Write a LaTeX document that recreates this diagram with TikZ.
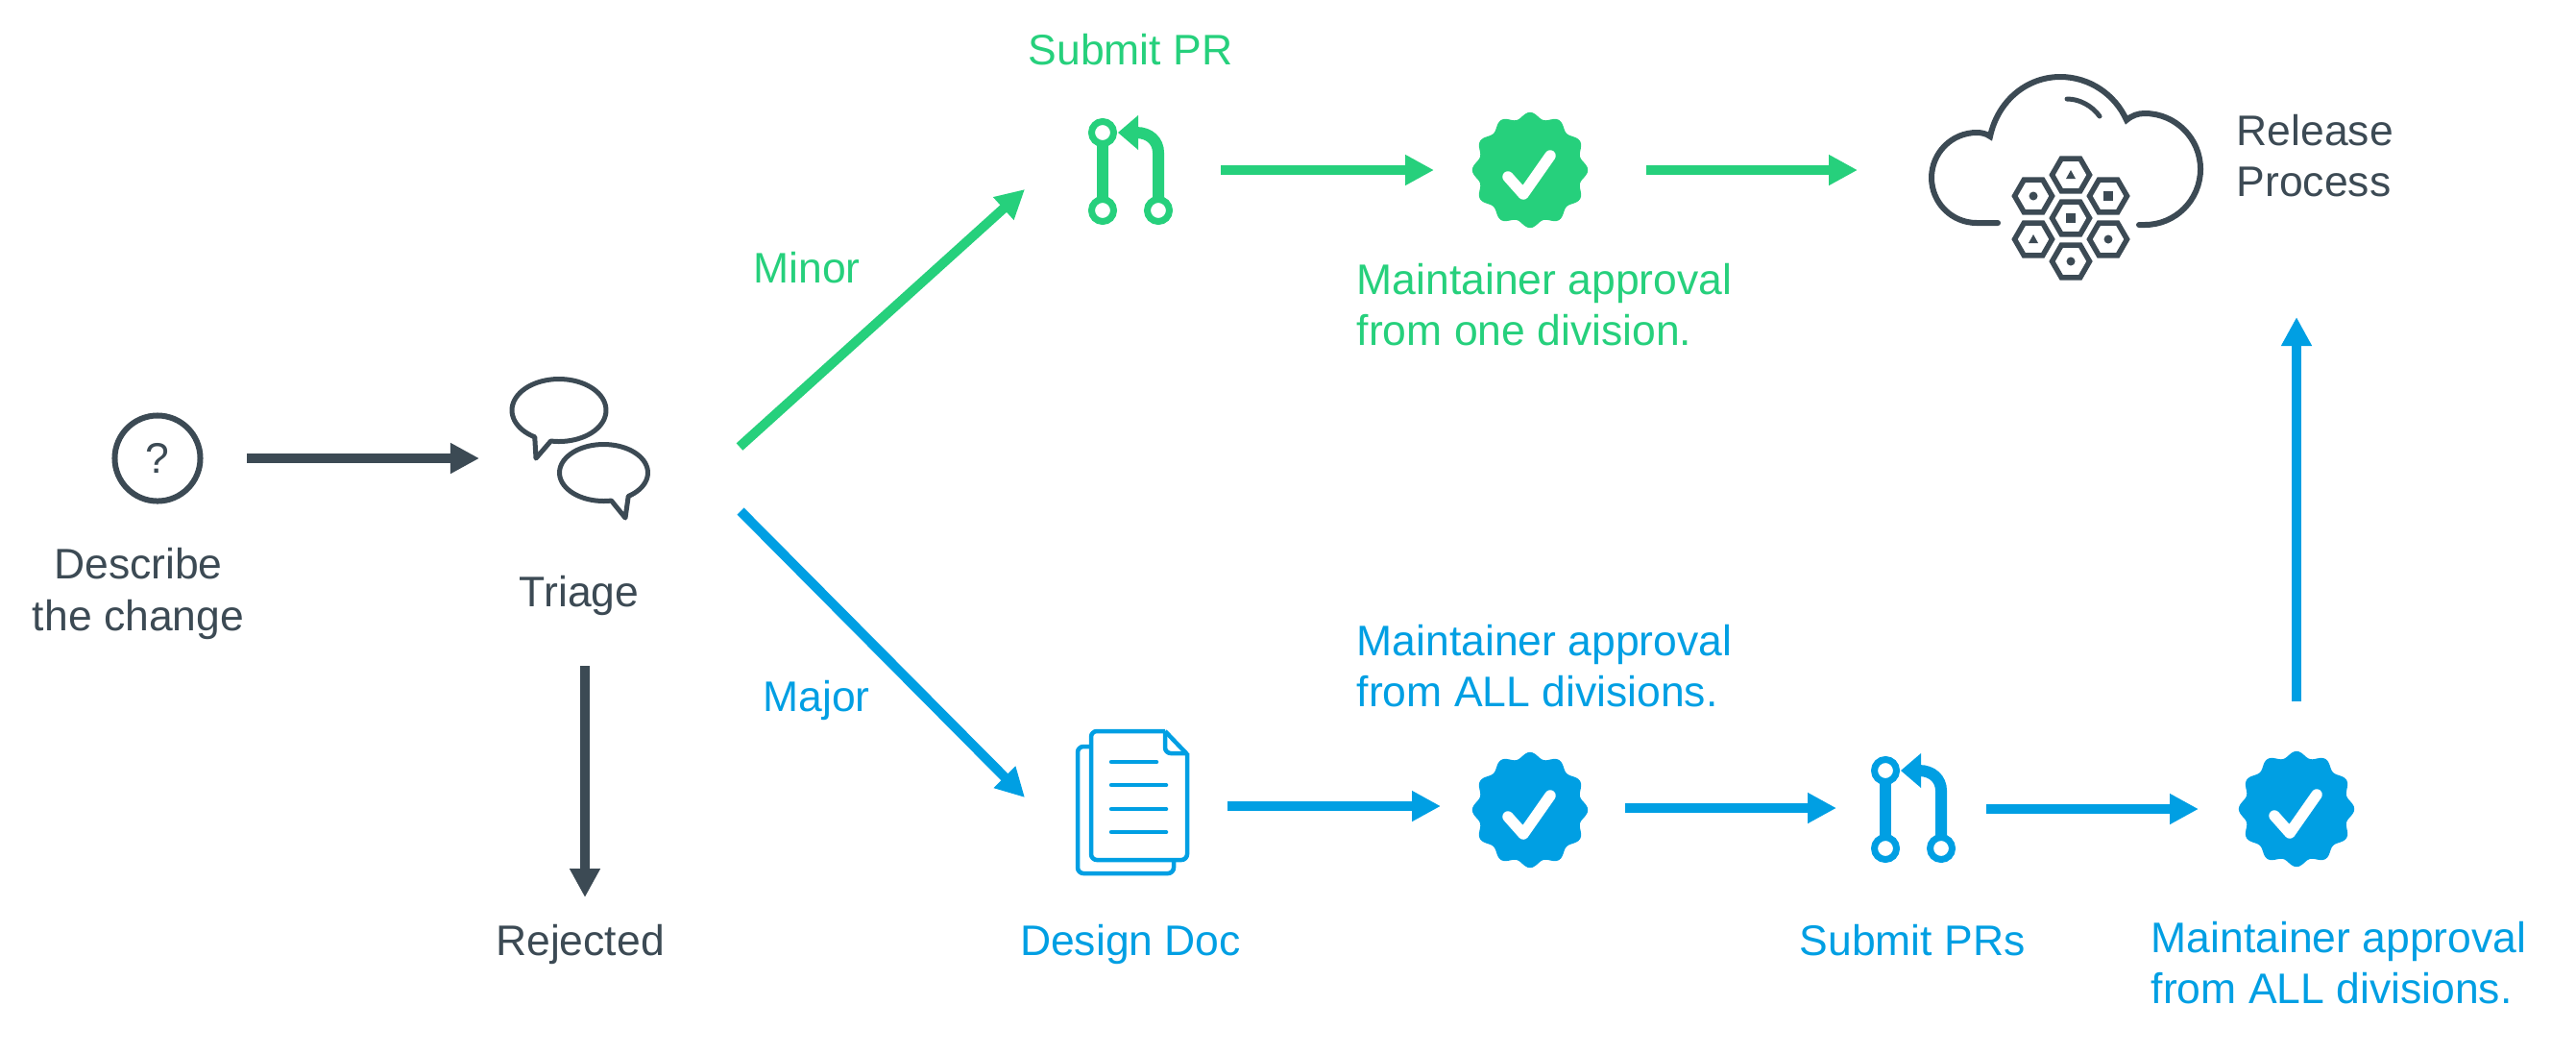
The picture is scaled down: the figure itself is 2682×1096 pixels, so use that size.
\documentclass[tikz,border=0pt]{standalone}
\usepackage{fontspec}
\setmainfont{Liberation Sans}
\usetikzlibrary{arrows.meta}
\definecolor{darkslate}{HTML}{3C4A54}
\definecolor{okgreen}{HTML}{26D07C}
\definecolor{okblue}{HTML}{009FE3}
\tikzset{
	label/.style={font=\fontsize{12.65}{15.1}\selectfont, inner sep=0pt},
	iconbox/.style={minimum size=.6cm, inner sep=0pt},
	flow/.style={-{Triangle[length=.3cm,width=.3cm]}, line width=.1cm},
	hexcell/.style={darkslate, line width=.055cm},
	pics/prmark/.style={code={
		\draw[#1, line width=.07cm] (-29,-39) circle (11.5);
		\draw[#1, line width=.07cm] (-29,42) circle (11.5);
		\draw[#1, line width=.07cm] (29,42) circle (11.5);
		\draw[#1, line width=.12cm] (-29,-27) -- (-29,30);
		\draw[#1, line width=.12cm] (29,30) -- (29,-18) .. controls (29,-30) and (20,-39) .. (6,-39);
		\fill[#1] (-13,-39) -- (8,-57) -- (8,-21) -- cycle;
	}},
	pics/badge/.style={code={
		\fill[#1] plot[domain=0:360, samples=145] ({(57+3.2*cos(12*\x))*cos(\x)},{(57+3.2*cos(12*\x))*sin(\x)}) -- cycle;
		\draw[white, line width=.115cm, line cap=round, line join=round] (-23,7) -- (-7,25) -- (21,-15);
	}},
	pics/hexagon/.style={code={
		\draw[hexcell] (19.5,0) -- (9.75,16.9) -- (-9.75,16.9) -- (-19.5,0) -- (-9.75,-16.9) -- (9.75,-16.9) -- cycle;
	}},
}
\begin{document}
\begin{tikzpicture}[x=.01cm, y=-.01cm]
	\useasboundingbox (0,0) rectangle (2682,1096);
	% icons
	\node[circle, draw=darkslate, line width=.06cm, minimum size=.89cm, inner sep=0pt, text=darkslate, font=\fontsize{12.65}{15.1}\selectfont] (ask) at (164,477) {?};
	\node[iconbox] (triage) at (603,467) {};
	\node[iconbox] (submitpr) at (1177,177) {};
	\node[iconbox] (oneok) at (1593,177) {};
	\node[iconbox] (release) at (2151,177) {};
	\node[iconbox] (designdoc) at (1179,839) {};
	\node[iconbox] (allok) at (1593,843) {};
	\node[iconbox] (submitprs) at (1992,841) {};
	\node[iconbox] (finalok) at (2391,842) {};
	\node[iconbox] (rejected) at (609,979) {};
	\pic at (submitpr) {prmark=okgreen};
	\pic at (submitprs) {prmark=okblue};
	\pic at (oneok) {badge=okgreen};
	\pic at (allok) {badge=okblue};
	\pic at (finalok) {badge=okblue};
	% speech bubbles
	\draw[darkslate, line width=.05cm, line join=round] plot[domain=121:460, samples=70] ({582+49*cos(\x)},{427+32.5*sin(\x)}) -- (558,477) -- cycle;
	\draw[darkslate, line width=.05cm, line join=round] plot[domain=80:416, samples=70] ({628.5+46*cos(\x)},{492+29.5*sin(\x)}) -- (651,539) -- cycle;
	% cloud
	\draw[darkslate, line width=.06cm, line cap=round] (2080,232) -- (2058,232) .. controls (2032,232) and (2011,211) .. (2011,185)
		.. controls (2011,159) and (2032,138) .. (2058,138) .. controls (2063,138) and (2068,139) .. (2072,142)
		.. controls (2080,105) and (2110,80) .. (2145,80) .. controls (2175,80) and (2202,98) .. (2214,125)
		.. controls (2220,120) and (2226,118) .. (2233,118) .. controls (2265,118) and (2291,144) .. (2291,176)
		.. controls (2291,208) and (2265,234) .. (2233,234) -- (2227,234);
	\draw[darkslate, line width=.05cm, line cap=round] (2152,103) .. controls (2165,103) and (2178,110) .. (2186,121);
	\foreach \cx/\cy in {2156/182, 2117/204, 2195/204, 2156/227, 2117/249, 2195/249, 2156/272}
		\pic at (\cx,\cy) {hexagon};
	\foreach \cx/\cy in {2117/204, 2195/249, 2156/272}
		\fill[darkslate] (\cx,\cy) circle (4.5);
	\foreach \cx/\cy in {2195/204, 2156/227}
		\fill[darkslate] (\cx-5,\cy-5) rectangle (\cx+5,\cy+5);
	\foreach \cx/\cy in {2156/182, 2117/249}
		\fill[darkslate] (\cx-5,\cy+4) -- (\cx,\cy-5) -- (\cx+5,\cy+4) -- cycle;
	% document
	\draw[okblue, line width=.045cm, rounded corners=.06cm] (1213,761) -- (1136,761) -- (1136,895) -- (1236,895) -- (1236,784);
	\draw[okblue, line width=.045cm, line join=round] (1213,761) -- (1236,785);
	\draw[okblue, line width=.045cm, rounded corners=.06cm] (1213,761) -- (1213,784) -- (1236,784);
	\draw[okblue, line width=.045cm, rounded corners=.06cm] (1136,777) -- (1122,777) -- (1122,909) -- (1222,909) -- (1222,895);
	\draw[okblue, line width=.045cm, line cap=round] (1157,793) -- (1204,793);
	\foreach \ly in {817,842,866}
		\draw[okblue, line width=.045cm, line cap=round] (1157,\ly) -- (1214,\ly);
	% labels
	\node[label, text=okgreen] (prlabel) at (1177,52) {Submit PR};
	\node[label, text=okgreen] (minor) at (840,279) {Minor};
	\node[label, text=okblue] (major) at (850,729) {Major};
	\node[label, text=okgreen, align=left, anchor=west] (onelabel) at (1412,317) {Maintainer approval\\from one division.};
	\node[label, text=darkslate, align=left, anchor=west] (releaselabel) at (2328,162) {Release\\Process};
	\node[label, text=darkslate, align=center] (asklabel) at (144,618) {Describe\\the change};
	\node[label, text=darkslate] (triagelabel) at (603,620) {Triage};
	\node[label, text=darkslate] (rejectlabel) at (604,983) {Rejected};
	\node[label, text=okblue] (doclabel) at (1177,983) {Design Doc};
	\node[label, text=okblue, align=left, anchor=west] (alllabel) at (1412,693) {Maintainer approval\\from ALL divisions.};
	\node[label, text=okblue] (prslabel) at (1991,979) {Submit PRs};
	\node[label, text=okblue, align=left, anchor=west] (finallabel) at (2239,1002) {Maintainer approval\\from ALL divisions.};
	% arrows
	\draw ([shift={(93,0)}]ask.center) edge[flow, darkslate] ([shift={(-104,10)}]triage.center);
	\draw ([shift={(6,226)}]triage.center) edge[flow, darkslate] ([shift={(0,-45)}]rejected.center);
	\draw ([shift={(167,-2)}]triage.center) edge[flow, okgreen] ([shift={(-110,20)}]submitpr.center);
	\draw ([shift={(168,65)}]triage.center) edge[flow, okblue] ([shift={(-112,-9)}]designdoc.center);
	\draw ([shift={(94,0)}]submitpr.center) edge[flow, okgreen] ([shift={(-100,0)}]oneok.center);
	\draw ([shift={(121,0)}]oneok.center) edge[flow, okgreen] ([shift={(-217,0)}]release.center);
	\draw ([shift={(99,0)}]designdoc.center) edge[flow, okblue] ([shift={(-93,-4)}]allok.center);
	\draw ([shift={(99,-2)}]allok.center) edge[flow, okblue] ([shift={(-80,0)}]submitprs.center);
	\draw ([shift={(76,1)}]submitprs.center) edge[flow, okblue] ([shift={(-102,0)}]finalok.center);
	\draw ([shift={(0,-112)}]finalok.center) edge[flow, okblue] ([shift={(240,153)}]release.center);
\end{tikzpicture}
\end{document}
